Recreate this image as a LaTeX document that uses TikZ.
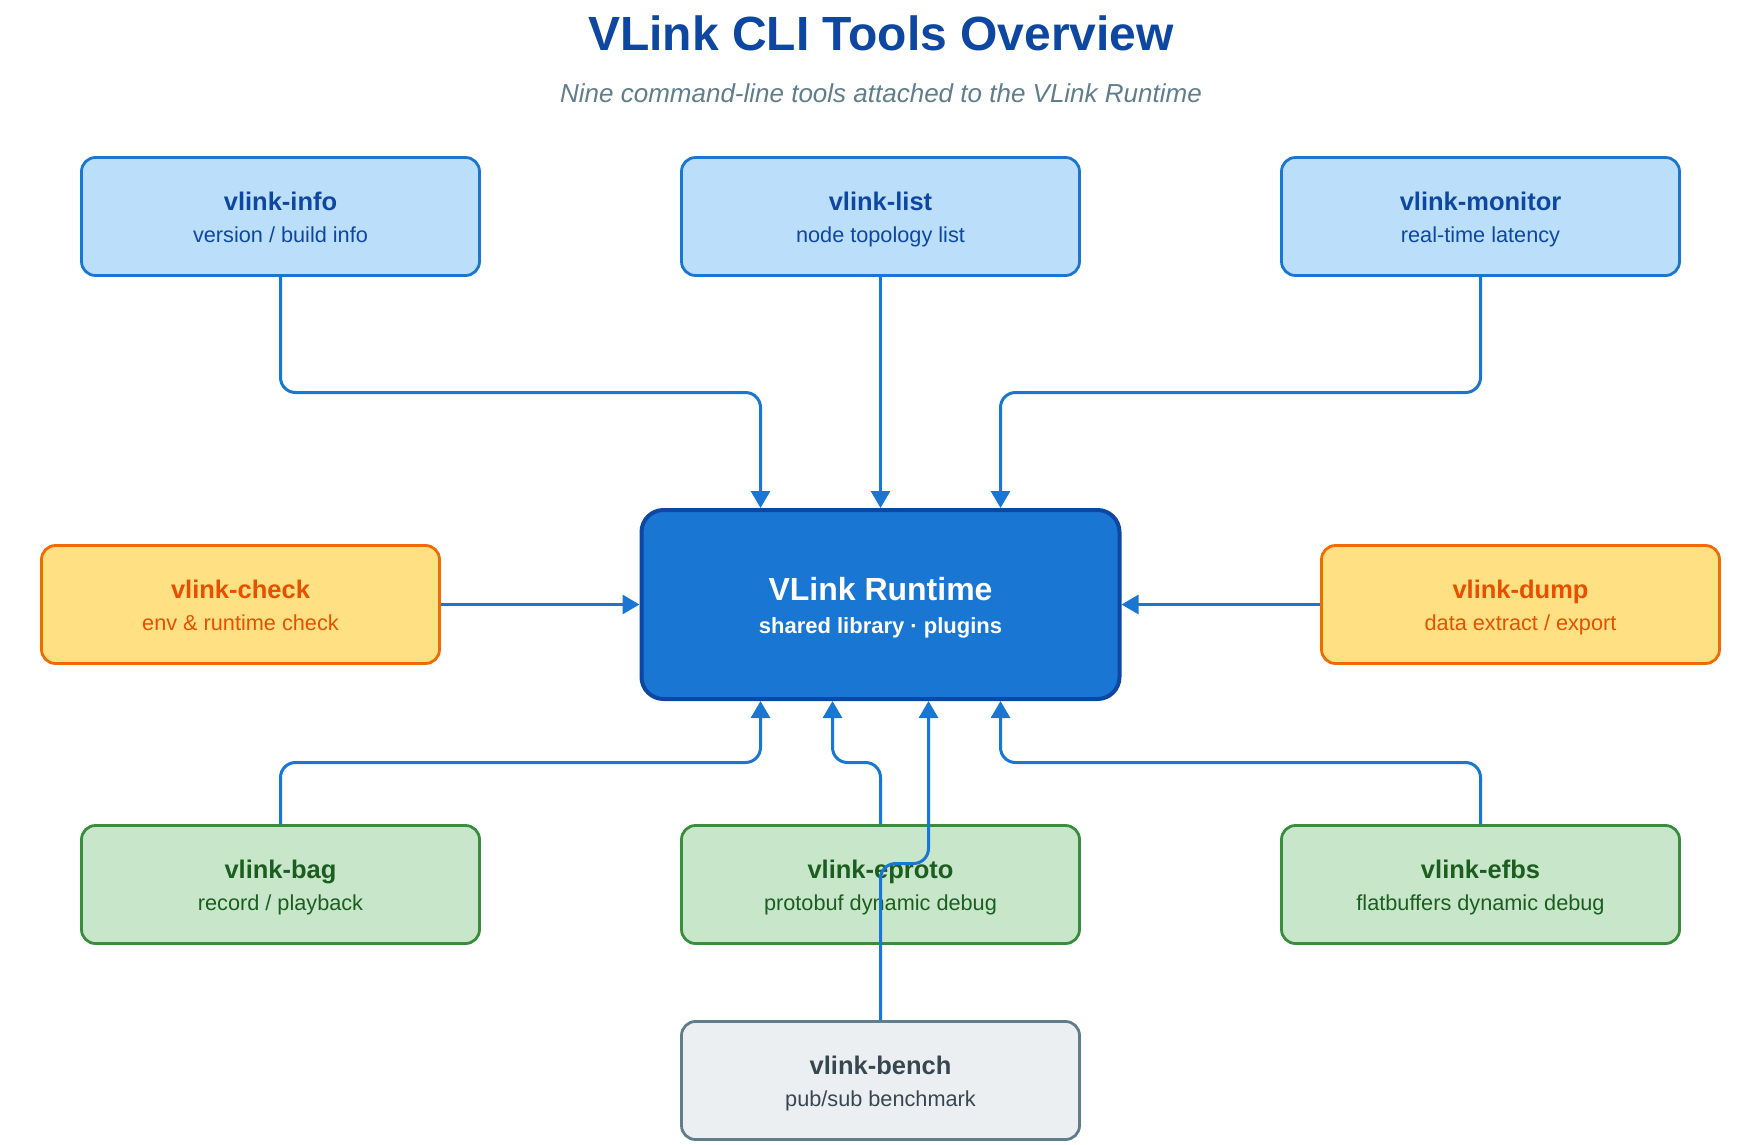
\documentclass[tikz,border=0pt]{standalone}
\usepackage{fontspec}
\setmainfont{Liberation Sans}
\usetikzlibrary{arrows.meta,calc}
\definecolor{bline}{HTML}{1976D2}
\definecolor{bdark}{HTML}{0D47A1}
\definecolor{bfill}{HTML}{BBDEFB}
\definecolor{ofill}{HTML}{FFE082}
\definecolor{oline}{HTML}{EF6C00}
\definecolor{otext}{HTML}{E65100}
\definecolor{gfill}{HTML}{C8E6C9}
\definecolor{gline}{HTML}{388E3C}
\definecolor{gtext}{HTML}{1B5E20}
\definecolor{sfill}{HTML}{ECEFF1}
\definecolor{sline}{HTML}{607D8B}
\definecolor{stext}{HTML}{37474F}
\newcommand\boxtitlefont{\fontsize{25.5}{30}\selectfont\bfseries}
\newcommand\boxsubfont{\fontsize{21.7}{26}\selectfont}
\newcommand\toolbox[6]{%
  \node[toolstyle,#3] (#1) at (#2) {};
  \node[anchor=base,text=#6,font=\boxtitlefont,inner sep=0] (#1-t) at ($(#1.center)+(0,-6.5)$) {#4};
  \node[anchor=base,text=#6,font=\boxsubfont,inner sep=0] (#1-s) at ($(#1.center)+(0,25.5)$) {#5};
}
\tikzset{
  toolstyle/.style={rectangle,rounded corners=14pt,line width=2.8pt,minimum width=398pt,minimum height=118pt,inner sep=0},
  bluebox/.style={draw=bline,fill=bfill},
  orangebox/.style={draw=oline,fill=ofill},
  greenbox/.style={draw=gline,fill=gfill},
  greybox/.style={draw=sline,fill=sfill},
  conn/.style={draw=bline,line width=3pt,rounded corners=15pt,-{Triangle[width=19pt,length=17pt]}},
}
\begin{document}
\begin{tikzpicture}[x=1pt,y=-1pt]
\useasboundingbox (0,0) rectangle (1762,1144);
\node[anchor=base,text=bdark,font=\fontsize{48}{56}\selectfont\bfseries,inner sep=0] (title) at (881,50) {VLink CLI Tools Overview};
\node[anchor=base,text=sline,font=\fontsize{26}{30}\selectfont\itshape,inner sep=0] (subtitle) at (881,102) {Nine command-line tools attached to the VLink Runtime};

\toolbox{info}{280.5,216.5}{bluebox}{vlink-info}{version / build info}{bdark}
\toolbox{list}{880.5,216.5}{bluebox}{vlink-list}{node topology list}{bdark}
\toolbox{monitor}{1480.5,216.5}{bluebox}{vlink-monitor}{real-time latency}{bdark}
\toolbox{check}{240.5,604.5}{orangebox}{vlink-check}{env \& runtime check}{otext}
\toolbox{dump}{1520.5,604.5}{orangebox}{vlink-dump}{data extract / export}{otext}
\toolbox{bag}{280.5,884.5}{greenbox}{vlink-bag}{record / playback}{gtext}
\toolbox{eproto}{880.5,884.5}{greenbox}{vlink-eproto}{protobuf dynamic debug}{gtext}
\toolbox{efbs}{1480.5,884.5}{greenbox}{vlink-efbs}{flatbuffers dynamic debug}{gtext}
\toolbox{bench}{880.5,1080.5}{greybox}{vlink-bench}{pub/sub benchmark}{stext}

\node[rectangle,rounded corners=22pt,draw=bdark,fill=bline,line width=4pt,minimum width=478pt,minimum height=189pt] (rt) at (880.5,604.5) {};
\node[anchor=base,text=white,font=\fontsize{32}{38}\selectfont\bfseries,inner sep=0] (rt-t) at ($(rt.center)+(0,-4.5)$) {VLink Runtime};
\node[anchor=base,text=white,font=\fontsize{22}{26}\selectfont\bfseries,inner sep=0] (rt-s) at ($(rt.center)+(0,28.5)$) {shared library · plugins};

\coordinate (ytop) at (0,392.5);
\coordinate (ybot) at (0,762.5);
\coordinate (ybench) at (0,863.5);

\draw[conn] (info.south) -- (info.south |- ytop) -| ($(rt.north)+(-120,0)$);
\draw[conn] (list.south) -- (rt.north);
\draw[conn] (monitor.south) -- (monitor.south |- ytop) -| ($(rt.north)+(120,0)$);
\draw[conn] (check.east) -- (rt.west);
\draw[conn] (dump.west) -- (rt.east);
\draw[conn] (bag.north) -- (bag.north |- ybot) -| ($(rt.south)+(-120,0)$);
\draw[conn] (eproto.north) -- (eproto.north |- ybot) -| ($(rt.south)+(-48,0)$);
\draw[conn] (bench.north) -- (bench.north |- ybench) -| ($(rt.south)+(48,0)$);
\draw[conn] (efbs.north) -- (efbs.north |- ybot) -| ($(rt.south)+(120,0)$);
\end{tikzpicture}
\end{document}
